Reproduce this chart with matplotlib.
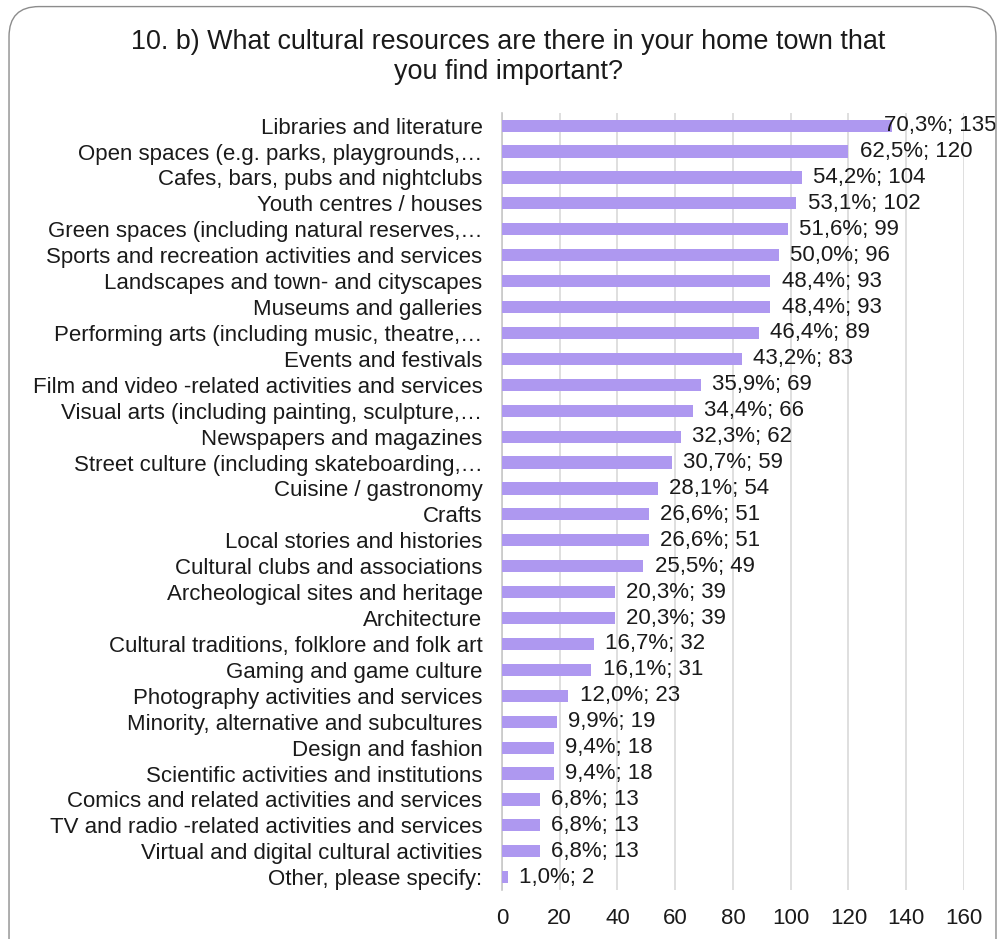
import matplotlib.pyplot as plt
from matplotlib.patches import FancyBboxPatch

plt.rcParams['font.family'] = ['Liberation Sans', 'DejaVu Sans']

# answers, top to bottom
categories = [
    'Libraries and literature',
    'Open spaces (e.g. parks, playgrounds,…',
    'Cafes, bars, pubs and nightclubs',
    'Youth centres / houses',
    'Green spaces (including natural reserves,…',
    'Sports and recreation activities and services',
    'Landscapes and town- and cityscapes',
    'Museums and galleries',
    'Performing arts (including music, theatre,…',
    'Events and festivals',
    'Film and video -related activities and services',
    'Visual arts (including painting, sculpture,…',
    'Newspapers and magazines',
    'Street culture (including skateboarding,…',
    'Cuisine / gastronomy',
    'Crafts',
    'Local stories and histories',
    'Cultural clubs and associations',
    'Archeological sites and heritage',
    'Architecture',
    'Cultural traditions, folklore and folk art',
    'Gaming and game culture',
    'Photography activities and services',
    'Minority, alternative and subcultures',
    'Design and fashion',
    'Scientific activities and institutions',
    'Comics and related activities and services',
    'TV and radio -related activities and services',
    'Virtual and digital cultural activities',
    'Other, please specify:',
]
counts = [135, 120, 104, 102, 99, 96, 93, 93, 89, 83, 69, 66, 62, 59, 54,
          51, 51, 49, 39, 39, 32, 31, 23, 19, 18, 18, 13, 13, 13, 2]
percents = ['70,3%', '62,5%', '54,2%', '53,1%', '51,6%', '50,0%', '48,4%',
            '48,4%', '46,4%', '43,2%', '35,9%', '34,4%', '32,3%', '30,7%',
            '28,1%', '26,6%', '26,6%', '25,5%', '20,3%', '20,3%', '16,7%',
            '16,1%', '12,0%', '9,9%', '9,4%', '9,4%', '6,8%', '6,8%', '6,8%',
            '1,0%']
xticks = [0, 20, 40, 60, 80, 100, 120, 140, 160]

FS = 16
TXT = '#1a1a1a'

fig = plt.figure(figsize=(10.02, 9.39), dpi=100)
ax = fig.add_axes([0.501, 0.052, 0.461, 0.828])

# rounded frame round the whole chart (bottom edge runs off the canvas)
frame = FancyBboxPatch((0.009, -0.05), 0.985, 1.043,
                       boxstyle='round,pad=0,rounding_size=0.03',
                       transform=fig.transFigure, facecolor='none',
                       edgecolor='#8c8c8c', linewidth=1.0,
                       mutation_aspect=1002 / 939)
fig.patches.append(frame)

pos = list(range(len(categories)))[::-1]
ax.barh(pos, counts, height=0.47, color='#ae98f0', zorder=3)

labels = []
for y, c, p in zip(pos, counts, percents):
    t = ax.annotate(p + '; ' + str(c), (c, y), xytext=(8, 0),
                    textcoords='offset points', va='center', ha='left',
                    fontsize=FS, color=TXT, zorder=4)
    labels.append(t)

ax.set_xlim(0, 160)
ax.set_ylim(-0.5, len(categories) - 0.5)
ax.set_yticks(pos)
ax.set_yticklabels(categories, fontsize=FS, color=TXT)
ax.set_xticks(xticks)
ax.set_xticklabels([str(t) for t in xticks], fontsize=FS, color=TXT)
ax.tick_params(axis='both', length=0)
ax.tick_params(axis='y', pad=14)
ax.tick_params(axis='x', pad=13)

ax.grid(axis='x', color='#d9d9d9', linewidth=1.2, zorder=0)
for s in ['top', 'right', 'bottom']:
    ax.spines[s].set_visible(False)
ax.spines['left'].set_color('#c8c8c8')
ax.spines['left'].set_linewidth(1.2)

fig.text(0.507, 0.9395, '10. b) What cultural resources are there in your home town that\n'
         'you find important?', fontsize=19.4, ha='center', va='center',
         linespacing=1.2, color=TXT)

# pull value labels back inside the frame if they run past it
fig.canvas.draw()
r = fig.canvas.get_renderer()
for t in labels:
    bb = t.get_window_extent(r)
    over = bb.x1 - 997
    if over > 0:
        x, y = t.get_position()
        t.set_position((x - over * 72 / fig.dpi, y))

plt.savefig('out.png', dpi=100)
